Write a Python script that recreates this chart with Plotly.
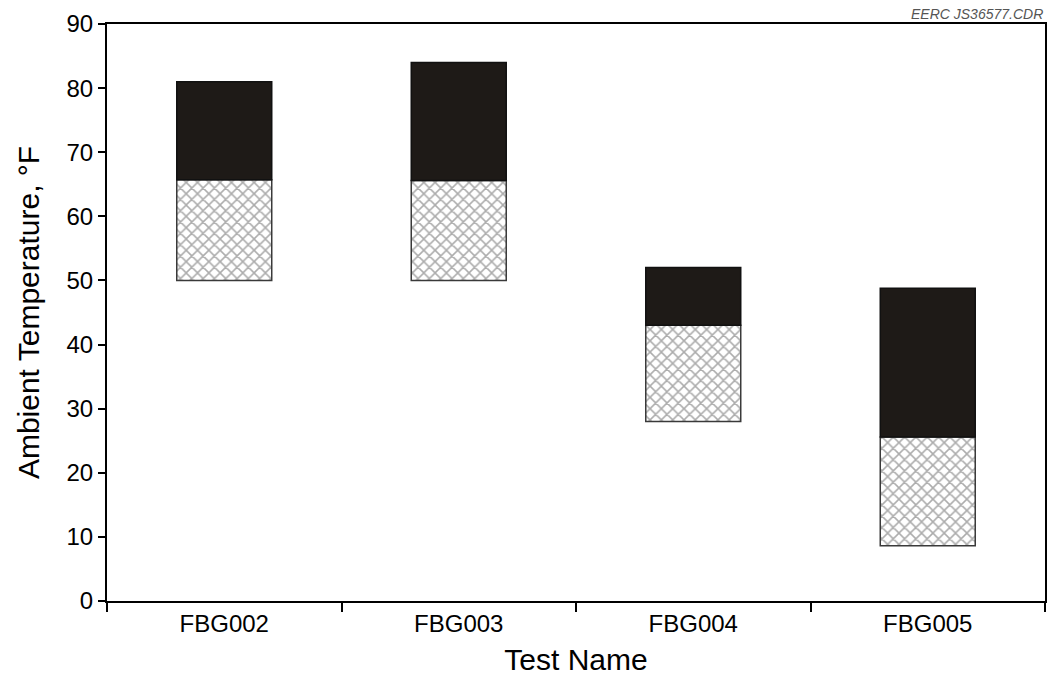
import plotly.graph_objects as go

tests = ["FBG002", "FBG003", "FBG004", "FBG005"]
low = [50.0, 50.0, 28.0, 8.6]
mid = [65.7, 65.6, 43.0, 25.6]
high = [81.0, 84.0, 52.0, 48.8]

lower_len = [m - l for l, m in zip(low, mid)]
upper_len = [h - m for m, h in zip(mid, high)]

fig = go.Figure()
fig.add_trace(go.Bar(
    x=tests, y=lower_len, base=low, width=0.405,
    marker=dict(color="white", line=dict(color="#3a3a3a", width=1.5),
                pattern=dict(shape="x", fgcolor="#5a5a5a", bgcolor="white",
                             size=8, solidity=0.35)),
    showlegend=False,
))
fig.add_trace(go.Bar(
    x=tests, y=upper_len, base=mid, width=0.405,
    marker=dict(color="#1e1a17", line=dict(color="#111111", width=1.5)),
    showlegend=False,
))

font = "Liberation Sans, Arial, sans-serif"
fig.update_layout(
    width=1053, height=677,
    margin=dict(l=107, r=6, t=24, b=76),
    plot_bgcolor="white", paper_bgcolor="white",
    barmode="overlay",
    font=dict(family=font, color="black"),
    xaxis=dict(
        type="category", tickson="boundaries", ticks="outside", ticklen=9,
        tickwidth=1.5, tickcolor="black",
        showline=True, linecolor="black", linewidth=2, mirror=True,
        showgrid=False, tickfont=dict(size=24),
        title=dict(text="Test Name", font=dict(size=30), standoff=13),
    ),
    yaxis=dict(
        range=[0, 90], dtick=10, ticks="outside", ticklen=7, tickwidth=1.5,
        tickcolor="black", showline=True, linecolor="black", linewidth=2,
        mirror=True, showgrid=False, zeroline=False, tickfont=dict(size=24),
        title=dict(text="Ambient Temperature, °F", font=dict(size=30), standoff=18),
    ),
    annotations=[dict(
        text="<i>EERC JS36577.CDR</i>", xref="paper", yref="paper",
        x=1.0, y=1.0, xanchor="right", yanchor="bottom", yshift=0,
        showarrow=False, font=dict(size=14, color="#555555", family=font),
    )],
)

fig.write_html("out.html")
